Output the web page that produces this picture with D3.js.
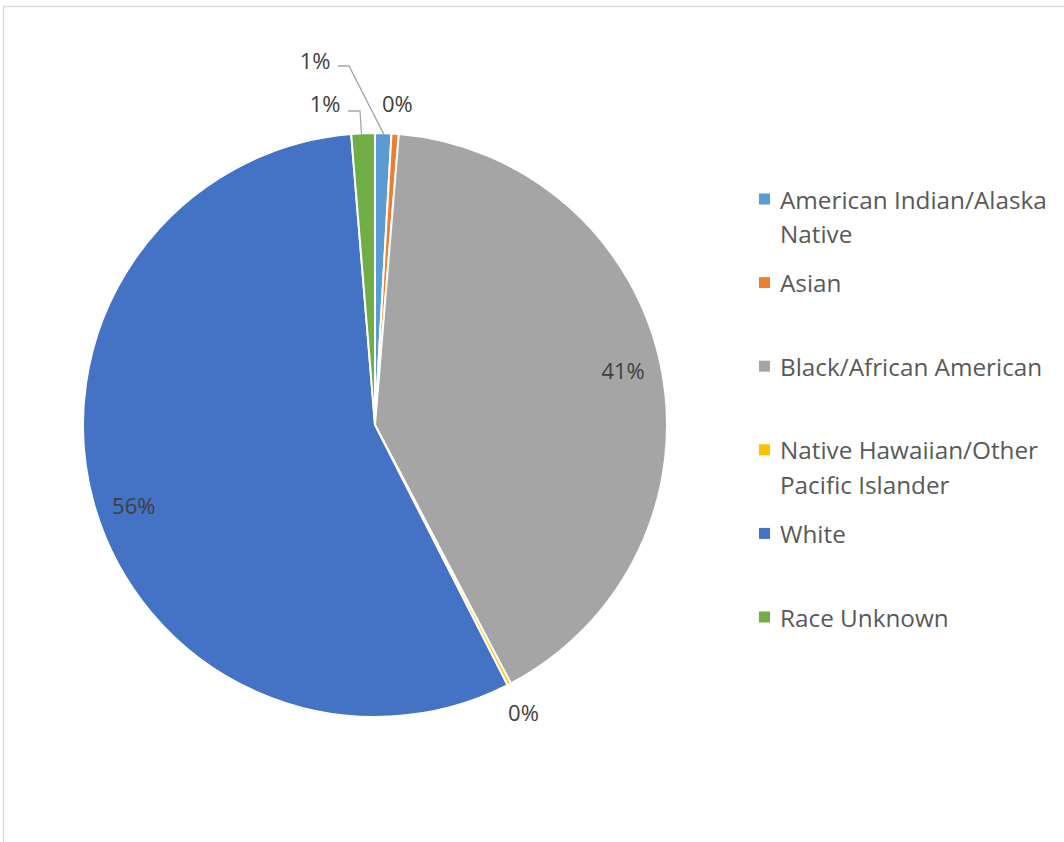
<!DOCTYPE html>
<html>
<head>
<meta charset="utf-8">
<script src="https://cdn.jsdelivr.net/npm/d3@7"></script>
<style>
  html, body { margin: 0; padding: 0; background: #fff; }
  svg { display: block; }
</style>
</head>
<body>
<svg id="chart" width="1064" height="842"></svg>
<script>
const categories = [
  "American Indian/Alaska Native",
  "Asian",
  "Black/African American",
  "Native Hawaiian/Other Pacific Islander",
  "White",
  "Race Unknown"
];
const legendLines = [
  ["American Indian/Alaska", "Native"],
  ["Asian"],
  ["Black/African American"],
  ["Native Hawaiian/Other", "Pacific Islander"],
  ["White"],
  ["Race Unknown"]
];
const values = [0.9, 0.4, 41.0, 0.2, 56.2, 1.3];
const labels = ["1%", "0%", "41%", "0%", "56%", "1%"];
const colors = ["#5B9BD5", "#ED7D31", "#A5A5A5", "#FFC000", "#4472C4", "#70AD47"];

const svg = d3.select("#chart");
const W = 1064, H = 842;
const FONT = "'Open Sans', Lato, sans-serif";

// chart border
svg.append("rect")
  .attr("x", 3.5).attr("y", 6.5)
  .attr("width", W + 10).attr("height", H + 10)
  .attr("fill", "#fff").attr("stroke", "#d9d9d9").attr("stroke-width", 1.5);

const cx = 375, cy = 425, R = 292;
const g = svg.append("g").attr("transform", `translate(${cx},${cy})`);

const pie = d3.pie().value(d => d).sort(null);
const arcs = pie(values);
const arc = d3.arc().innerRadius(0).outerRadius(R);

g.selectAll("path.slice")
  .data(arcs)
  .join("path")
  .attr("class", "slice")
  .attr("d", arc)
  .attr("fill", (d, i) => colors[i])
  .attr("stroke", "#fff")
  .attr("stroke-width", 2)
  .attr("stroke-linejoin", "round");

// label placement: inside (r ~ 0.87R) or outside (R + 31)
const inside = [false, false, true, false, true, false];
const angleTweak = [0, 0, -0.9, 0, -2.4, 0]; // degrees
const labelRin = R * 0.87, labelRout = R + 31;
const edgeArc = d3.arc().innerRadius(R).outerRadius(R);

// crowded small slices are pulled out to these spots with leader lines
const calloutPos = { 0: [-60, -365], 5: [-50, -322] };

arcs.forEach((d, i) => {
  const a = (d.startAngle + d.endAngle) / 2 + angleTweak[i] * Math.PI / 180;
  const r = inside[i] ? labelRin : labelRout;
  let x = r * Math.sin(a), y = -r * Math.cos(a);
  const callout = calloutPos[i];
  if (callout) { x = callout[0]; y = callout[1]; }
  g.append("text")
    .attr("x", x).attr("y", y)
    .attr("text-anchor", "middle")
    .attr("dominant-baseline", "central")
    .attr("font-family", FONT)
    .attr("font-size", 22)
    .attr("fill", "#404040")
    .text(labels[i]);
  if (callout) {
    const [ex, ey] = edgeArc.centroid(d);
    const lx = x + 23, ly = y + (i === 0 ? 6 : 8);
    const kx = lx + (i === 0 ? 11 : 12);
    g.append("polyline")
      .attr("points", `${lx},${ly} ${kx},${ly} ${ex + (i === 5 ? -1.5 : 0.5)},${ey + 1}`)
      .attr("fill", "none")
      .attr("stroke", "#a6a6a6")
      .attr("stroke-width", 1.3);
  }
});

// legend
const lg = svg.append("g");
const legendTop = 199, legendStep = 83.6, lineH = 34.5;
categories.forEach((c, i) => {
  const y0 = legendTop + i * legendStep;
  lg.append("rect")
    .attr("x", 759).attr("y", y0 - 5.5)
    .attr("width", 11).attr("height", 11)
    .attr("fill", colors[i]);
  legendLines[i].forEach((t, j) => {
    lg.append("text")
      .attr("x", 780).attr("y", y0 + j * lineH)
      .attr("dominant-baseline", "central")
      .attr("font-family", FONT)
      .attr("font-size", 24.3)
      .attr("fill", "#595959")
      .text(t);
  });
});
</script>
</body>
</html>
